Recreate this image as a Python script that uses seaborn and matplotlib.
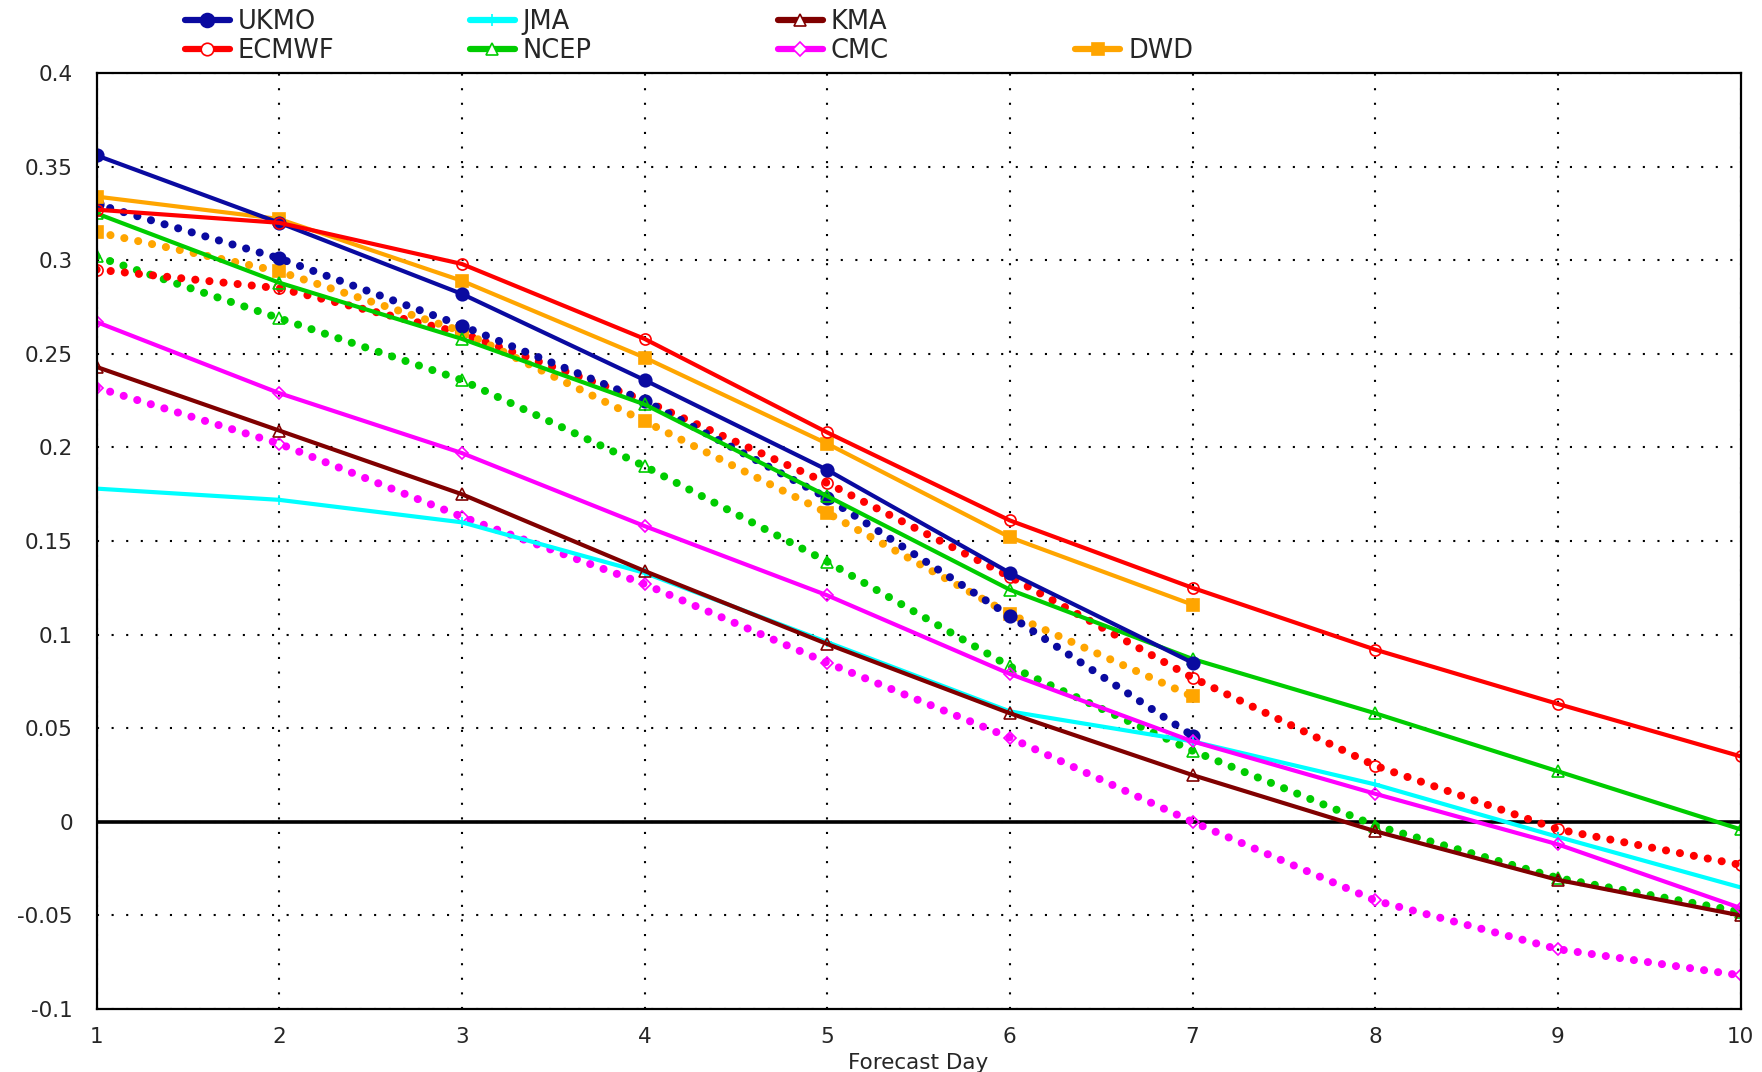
import matplotlib
matplotlib.use("Agg")
import matplotlib.pyplot as plt
import seaborn as sns
from matplotlib.lines import Line2D
from matplotlib.ticker import FuncFormatter

# forecast days and scores
days = [1, 2, 3, 4, 5, 6, 7, 8, 9, 10]

ukmo = [0.356, 0.320, 0.282, 0.236, 0.188, 0.133, 0.085]
ukmo_dot = [0.330, 0.301, 0.265, 0.225, 0.173, 0.110, 0.046]
ecmwf = [0.327, 0.320, 0.298, 0.258, 0.208, 0.161, 0.125, 0.092, 0.063, 0.035]
ecmwf_dot = [0.295, 0.285, 0.261, 0.225, 0.181, 0.131, 0.077, 0.030, -0.004, -0.023]
jma = [0.178, 0.172, 0.160, 0.133, 0.096, 0.059, 0.043, 0.020, -0.008, -0.035]
kma = [0.243, 0.209, 0.175, 0.134, 0.095, 0.058, 0.025, -0.005, -0.031, -0.050]
ncep = [0.325, 0.288, 0.258, 0.223, 0.174, 0.124, 0.087, 0.058, 0.027, -0.004]
ncep_dot = [0.302, 0.269, 0.236, 0.190, 0.139, 0.083, 0.038, -0.002, -0.030, -0.048]
cmc = [0.267, 0.229, 0.197, 0.158, 0.121, 0.079, 0.043, 0.015, -0.012, -0.046]
cmc_dot = [0.232, 0.202, 0.163, 0.127, 0.085, 0.045, 0.000, -0.042, -0.068, -0.082]
dwd = [0.334, 0.322, 0.289, 0.248, 0.202, 0.152, 0.116]
dwd_dot = [0.315, 0.294, 0.262, 0.214, 0.165, 0.111, 0.067]

yticks = [-0.1, -0.05, 0, 0.05, 0.1, 0.15, 0.2, 0.25, 0.3, 0.35, 0.4]

# name -> color, marker, filled, marker size
styles = {
    "UKMO": ("#0a0aa0", "o", True, 9),
    "ECMWF": ("#ff0000", "o", False, 8),
    "JMA": ("#00ffff", "+", False, 7),
    "NCEP": ("#00cc00", "^", False, 8),
    "KMA": ("#800000", "^", False, 8),
    "CMC": ("#ff00ff", "D", False, 6),
    "DWD": ("#ffa500", "s", True, 8),
}

sns.set_style("white")
plt.rcParams["font.family"] = ["DejaVu Sans"]

fig = plt.figure(figsize=(17.62, 10.72), dpi=100)
ax = fig.add_axes([0.0548, 0.0587, 0.933, 0.8732])

ax.grid(True, color="black", linestyle=(0, (1, 6)), linewidth=1.5)
ax.axhline(0, color="black", lw=2.6, zorder=1.5)


def draw(name, values, dotted):
    color, marker, filled, ms = styles[name]
    kw = dict(marker=marker, markersize=ms,
              markeredgecolor=color, markeredgewidth=1.2,
              markerfacecolor=color if filled else "none")
    if dotted:
        kw.update(linestyle=(0, (0.01, 1.75)), linewidth=5.8, dash_capstyle="round")
    else:
        kw.update(linestyle="-", linewidth=3.0)
    sns.lineplot(x=days[:len(values)], y=values, ax=ax, color=color,
                 legend=False, **kw)


# dotted series first, solid ones on top
draw("CMC", cmc_dot, True)
draw("NCEP", ncep_dot, True)
draw("ECMWF", ecmwf_dot, True)
draw("DWD", dwd_dot, True)
draw("UKMO", ukmo_dot, True)

draw("JMA", jma, False)
draw("KMA", kma, False)
draw("CMC", cmc, False)
draw("NCEP", ncep, False)
draw("DWD", dwd, False)
draw("UKMO", ukmo, False)
draw("ECMWF", ecmwf, False)

ax.set_xlim(1, 10)
ax.set_ylim(-0.1, 0.4)
ax.set_xticks(days)
ax.set_yticks(yticks)
ax.yaxis.set_major_formatter(FuncFormatter(lambda v, p: "%g" % round(v, 3)))
ax.tick_params(axis="both", direction="out", length=9, width=1.5,
               labelsize=15.5, pad=8, color="black")
ax.tick_params(axis="x", pad=4)
ax.set_xlabel("Forecast Day", fontsize=15.5, labelpad=4)
ax.set_ylabel("")
for sp in ax.spines.values():
    sp.set_visible(True)
    sp.set_color("black")
    sp.set_linewidth(1.6)


def handle(name):
    color, marker, filled, ms = styles[name]
    return Line2D([], [], color=color, lw=4.5, marker=marker, markersize=ms + 1,
                  markeredgecolor=color, markeredgewidth=1.2,
                  markerfacecolor=color if filled else "white")


blank = Line2D([], [], alpha=0)
columns = [
    (0.105, ["UKMO", "ECMWF"]),
    (0.2666, ["JMA", "NCEP"]),
    (0.4413, ["KMA", "CMC"]),
    (0.6103, [None, "DWD"]),
]
for xpos, names in columns:
    hs = [handle(n) if n else blank for n in names]
    labs = [n if n else "" for n in names]
    fig.legend(hs, labs, loc="upper left", bbox_to_anchor=(xpos, 0.992),
               frameon=False, fontsize=18.5, handlelength=1.75,
               handletextpad=0.3, borderpad=0, borderaxespad=0,
               labelspacing=0.15)

fig.savefig("out.png", dpi=100)
